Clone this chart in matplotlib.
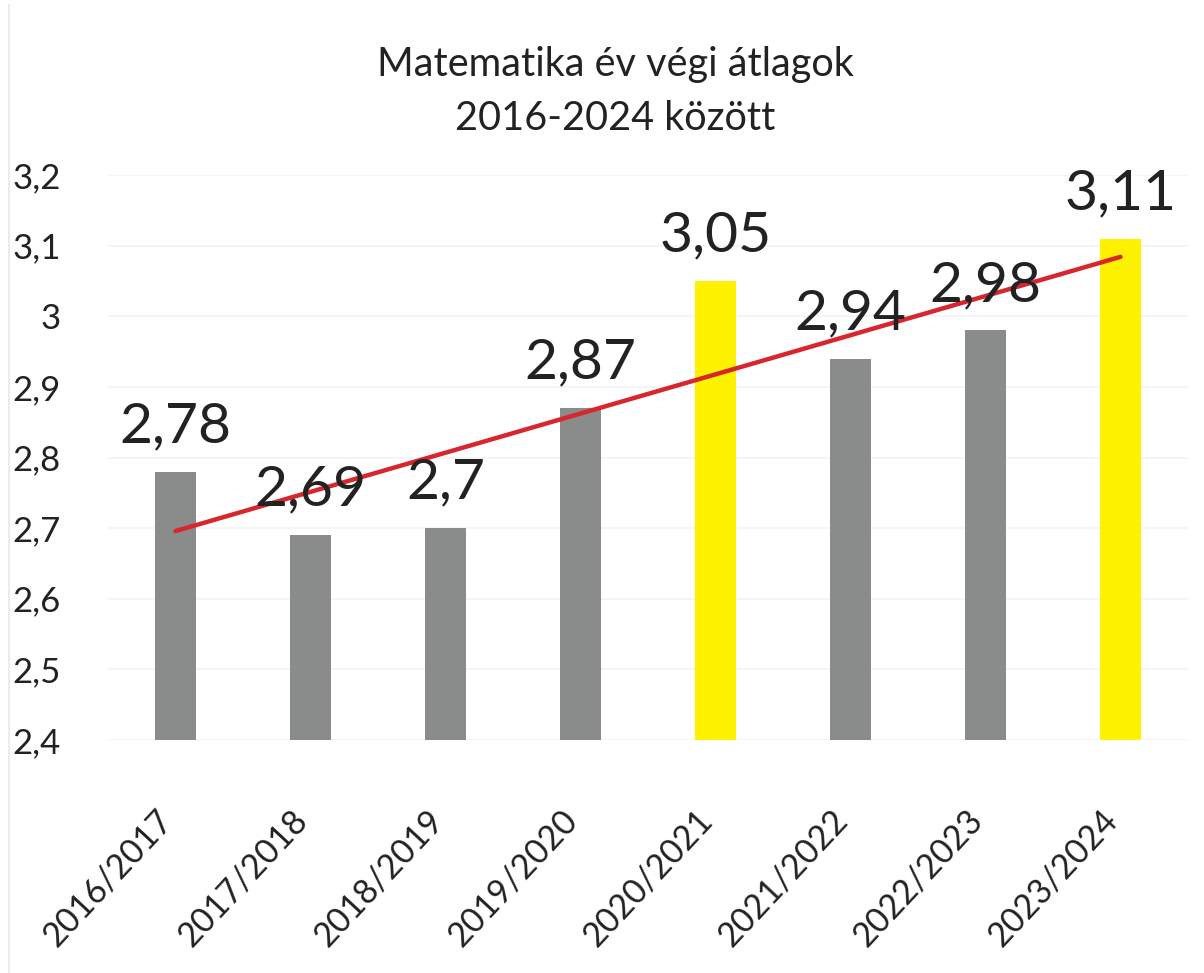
import numpy as np
import matplotlib
matplotlib.use("Agg")
import matplotlib.pyplot as plt
from matplotlib.ticker import FixedLocator

# adatok
tanevek = ["2016/2017", "2017/2018", "2018/2019", "2019/2020",
           "2020/2021", "2021/2022", "2022/2023", "2023/2024"]
atlagok = [2.78, 2.69, 2.7, 2.87, 3.05, 2.94, 2.98, 3.11]
kiemelt = [False, False, False, False, True, False, False, True]
cimkek = ["2,78", "2,69", "2,7", "2,87", "3,05", "2,94", "2,98", "3,11"]
y_ticks = [2.4, 2.5, 2.6, 2.7, 2.8, 2.9, 3.0, 3.1, 3.2]
y_ticklabels = ["2,4", "2,5", "2,6", "2,7", "2,8", "2,9", "3", "3,1", "3,2"]

plt.rcParams['font.family'] = ['Lato', 'DejaVu Sans']

fig = plt.figure(figsize=(12.04, 9.73), dpi=100)
ax = fig.add_axes([0.0897, 0.2395, 0.897, 0.5806])

x = np.arange(len(tanevek))
szinek = ['#fff200' if k else '#8a8c8c' for k in kiemelt]
ax.bar(x, [a - 2.4 for a in atlagok], bottom=2.4, width=0.31, color=szinek, zorder=2)

# lineáris trendvonal
m, b = np.polyfit(x, atlagok, 1)
ax.plot(x, m * x + b, color='#d8262e', lw=3.2, zorder=4, solid_capstyle='round')

for xi, a, c in zip(x, atlagok, cimkek):
    ax.annotate(c, (xi, a), xytext=(0, 14), textcoords='offset points',
                ha='center', va='bottom', fontsize=41, color='#222222', zorder=5)

ax.set_xlim(-0.5, 7.5)
ax.set_ylim(2.4, 3.2)
ax.yaxis.set_major_locator(FixedLocator(y_ticks))
ax.set_yticklabels(y_ticklabels, fontsize=25, color='#222222')
ax.set_xticks(x)
ax.set_xticklabels([])
# ferde kategóriafeliratok, kicsit balra tolva
for xi, t in zip(x, tanevek):
    ax.annotate(t, (xi, 0), xycoords=ax.get_xaxis_transform(),
                xytext=(-20, -64), textcoords='offset pixels',
                rotation=47, rotation_mode='anchor', ha='right', va='top',
                fontsize=24.5, color='#222222', annotation_clip=False)
ax.tick_params(axis='y', length=0, pad=34)
ax.tick_params(axis='x', length=0)
ax.grid(axis='y', color='#f3f3f3', lw=1.2, zorder=0)
for s in ax.spines.values():
    s.set_visible(False)

fig.text(0.511, 0.906, "Matematika év végi átlagok\n2016-2024 között",
         ha='center', va='center', fontsize=28.5, color='#222222', linespacing=1.55)

# halvány keret a bal szélen (szkennelt lap széle)
fig.add_artist(plt.Line2D([0.0075, 0.0075], [0, 0.995], transform=fig.transFigure,
                          color='#ececec', lw=1.5))

fig.savefig("out.png", dpi=100)
